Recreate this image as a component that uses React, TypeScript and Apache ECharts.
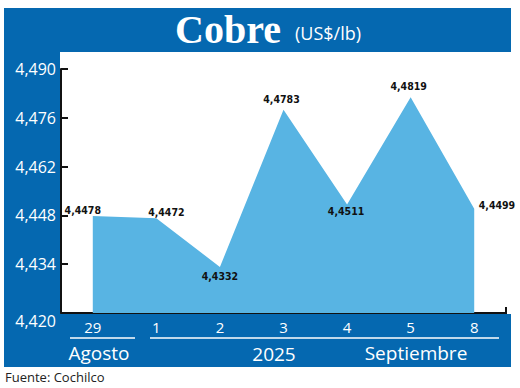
import React, { useEffect, useRef } from "react";
import * as echarts from "echarts";

const categories = ["29", "1", "2", "3", "4", "5", "8"];
const values = [4.4478, 4.4472, 4.4332, 4.4783, 4.4511, 4.4819, 4.4499];
const yTicks = [4.42, 4.434, 4.448, 4.462, 4.476, 4.49];
const labelPlacement: any[] = [
  { position: "top", distance: 0, offset: [-10, 0] },
  { position: "top", distance: 0, offset: [10, 0] },
  { position: "bottom", distance: 3, offset: [0, 0] },
  { position: "top", distance: 5, offset: [-2, 0] },
  { position: "bottom", distance: 0, offset: [-1, 0] },
  { position: "top", distance: 5, offset: [-2, 0] },
  { position: "right", distance: 4, offset: [0, -4] },
];

const BLUE = "#0568b0";
const AREA = "#58b4e3";
const SANS = "'Open Sans', 'Noto Sans', sans-serif";
const NARROW = "'DejaVu Sans Condensed', 'Liberation Sans Narrow', 'Arial Narrow', sans-serif";

const fmt = (v: number, d: number) => v.toFixed(d).replace(".", ",");

export default function App() {
  const ref = useRef<HTMLDivElement>(null);
  useEffect(() => {
    if (!ref.current) return;
    const chart = echarts.init(ref.current, undefined, { renderer: "svg" });
    chart.setOption({
      animation: false,
      backgroundColor: "#ffffff",
      grid: { left: 61, right: 14, top: 69, bottom: 75, containLabel: false, outerBoundsMode: "none" },
      graphic: [
        { type: "rect", z: -10, shape: { x: 4, y: 8, width: 507, height: 359 }, style: { fill: BLUE } },
        { type: "rect", z: -9, shape: { x: 60, y: 52, width: 460, height: 262 }, style: { fill: "#ffffff" } },
        {
          type: "text", z: 100, x: 175, y: 29,
          style: { text: "Cobre", font: "bold 40px 'Liberation Serif', 'DejaVu Serif', serif", fill: "#ffffff", textAlign: "left", textVerticalAlign: "middle" },
        },
        {
          type: "text", z: 100, x: 295, y: 33,
          style: { text: "(US$/lb)", font: `18px ${SANS}`, fill: "#ffffff", textAlign: "left", textVerticalAlign: "middle" },
        },
        { type: "line", z: 100, shape: { x1: 506, y1: 307, x2: 506, y2: 314 }, style: { stroke: "#111", lineWidth: 2 } },
        { type: "line", z: 100, shape: { x1: 70, y1: 338, x2: 135, y2: 338 }, style: { stroke: "#ffffff", lineWidth: 1.5 } },
        { type: "line", z: 100, shape: { x1: 150, y1: 338, x2: 499, y2: 338 }, style: { stroke: "#ffffff", lineWidth: 1.5 } },
        {
          type: "text", z: 100, x: 99, y: 353,
          style: { text: "Agosto", font: `19px ${SANS}`, fill: "#ffffff", textAlign: "center", textVerticalAlign: "middle" },
        },
        {
          type: "text", z: 100, x: 274, y: 354,
          style: { text: "2025", font: `19px ${SANS}`, fill: "#ffffff", textAlign: "center", textVerticalAlign: "middle" },
        },
        {
          type: "text", z: 100, x: 416, y: 353,
          style: { text: "Septiembre", font: `19px ${SANS}`, fill: "#ffffff", textAlign: "center", textVerticalAlign: "middle" },
        },
        {
          type: "text", z: 100, x: 5, y: 377,
          style: { text: "Fuente: Cochilco", font: `13px ${SANS}`, fill: "#222222", textAlign: "left", textVerticalAlign: "middle" },
        },
      ],
      xAxis: {
        type: "category",
        data: categories,
        boundaryGap: true,
        axisLine: { show: true, lineStyle: { color: "#111", width: 2 } },
        axisTick: { show: false },
        axisLabel: { color: "#ffffff", fontSize: 15, fontFamily: SANS, margin: 6 },
        splitLine: { show: false },
      },
      yAxis: {
        type: "value",
        min: 4.42,
        max: 4.49,
        axisLine: { show: true, lineStyle: { color: "#111", width: 2 } },
        axisTick: { show: true, inside: true, length: 7, lineStyle: { color: "#111", width: 2 }, customValues: yTicks },
        axisLabel: {
          color: "#ffffff",
          fontSize: 16,
          fontFamily: SANS,
          margin: 5,
          customValues: yTicks,
          formatter: (v: number) => fmt(v, 3),
          verticalAlignMinLabel: "top",
        },
        splitLine: { show: false },
      },
      series: [
        {
          type: "line",
          data: values.map((v, i) => ({ value: v, label: labelPlacement[i] })),
          symbol: "circle",
          symbolSize: 1,
          showSymbol: true,
          itemStyle: { color: "rgba(0,0,0,0)" },
          lineStyle: { width: 0, color: AREA },
          areaStyle: { color: AREA, opacity: 1 },
          label: {
            show: true,
            color: "#111111",
            fontFamily: NARROW,
            fontWeight: "bold",
            fontSize: 10.5,
            formatter: (p: any) => fmt(values[p.dataIndex], 4),
          },
        },
      ],
    });
    return () => chart.dispose();
  }, []);
  return <div ref={ref} style={{ position: "absolute", left: 0, top: 0, width: 520, height: 388 }} />;
}
